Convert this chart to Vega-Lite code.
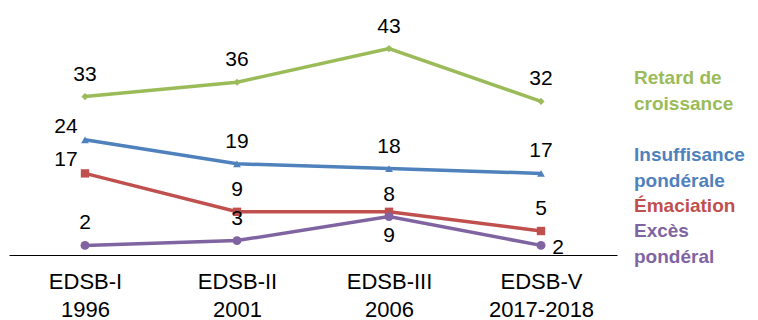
{
  "$schema": "https://vega.github.io/schema/vega-lite/v6.json",
  "width": 608,
  "height": 240,
  "autosize": {"type": "none"},
  "padding": {"left": 9, "top": 15, "right": 141, "bottom": 65},
  "background": "white",
  "config": {
    "view": {"stroke": null},
    "font": "Liberation Sans",
    "text": {"font": "Liberation Sans", "fontSize": 21, "fill": "#000000"}
  },
  "data": {
    "values": [
      {"serie": "Retard de croissance", "vague": "EDSB-I 1996", "valeur": 33},
      {"serie": "Retard de croissance", "vague": "EDSB-II 2001", "valeur": 36},
      {"serie": "Retard de croissance", "vague": "EDSB-III 2006", "valeur": 43},
      {"serie": "Retard de croissance", "vague": "EDSB-V 2017-2018", "valeur": 32},
      {"serie": "Insuffisance pondérale", "vague": "EDSB-I 1996", "valeur": 24},
      {"serie": "Insuffisance pondérale", "vague": "EDSB-II 2001", "valeur": 19},
      {"serie": "Insuffisance pondérale", "vague": "EDSB-III 2006", "valeur": 18},
      {"serie": "Insuffisance pondérale", "vague": "EDSB-V 2017-2018", "valeur": 17},
      {"serie": "Émaciation", "vague": "EDSB-I 1996", "valeur": 17},
      {"serie": "Émaciation", "vague": "EDSB-II 2001", "valeur": 9},
      {"serie": "Émaciation", "vague": "EDSB-III 2006", "valeur": 9},
      {"serie": "Émaciation", "vague": "EDSB-V 2017-2018", "valeur": 5},
      {"serie": "Excès pondéral", "vague": "EDSB-I 1996", "valeur": 2},
      {"serie": "Excès pondéral", "vague": "EDSB-II 2001", "valeur": 3},
      {"serie": "Excès pondéral", "vague": "EDSB-III 2006", "valeur": 8},
      {"serie": "Excès pondéral", "vague": "EDSB-V 2017-2018", "valeur": 2}
    ]
  },
  "encoding": {
    "x": {
      "field": "vague",
      "type": "ordinal",
      "sort": ["EDSB-I 1996", "EDSB-II 2001", "EDSB-III 2006", "EDSB-V 2017-2018"],
      "scale": {"type": "point", "padding": 0.5},
      "axis": {
        "title": null,
        "domainColor": "#000000",
        "domainWidth": 1,
        "ticks": false,
        "labelAngle": 0,
        "labelFont": "Liberation Sans",
        "labelFontSize": 22,
        "labelColor": "#000000",
        "labelPadding": 16,
        "labelBaseline": "top",
        "labelLineHeight": 28,
        "labelExpr": "split(datum.label, ' ')"
      }
    },
    "y": {
      "field": "valeur",
      "type": "quantitative",
      "scale": {"domain": [0, 50]},
      "axis": null
    }
  },
  "layer": [
    {
      "mark": {"type": "line", "strokeWidth": 3.5},
      "encoding": {
        "color": {
          "field": "serie",
          "type": "nominal",
          "scale": {
            "domain": ["Retard de croissance", "Insuffisance pondérale", "Émaciation", "Excès pondéral"],
            "range": ["#9BBB59", "#4F81BD", "#C0504D", "#8064A2"]
          },
          "legend": {
            "title": null,
            "orient": "none",
            "legendX": 606,
            "legendY": 53,
            "padding": 0,
            "symbolSize": 0,
            "symbolOpacity": 0,
            "symbolStrokeWidth": 0,
            "labelOffset": 0,
            "labelFont": "Liberation Sans",
            "labelFontSize": 19,
            "labelFontWeight": "bold",
            "labelLimit": 300,
            "rowPadding": 5,
            "labelExpr": "datum.label == 'Retard de croissance' ? ['Retard de', 'croissance', ''] : datum.label == 'Insuffisance pondérale' ? ['Insuffisance', 'pondérale'] : datum.label == 'Excès pondéral' ? ['Excès', 'pondéral'] : datum.label",
            "encode": {
              "labels": {"update": {"fill": {"scale": "color", "field": "value"}, "lineHeight": {"value": 26}}}
            }
          }
        }
      }
    },
    {
      "mark": {"type": "point", "filled": true, "opacity": 1},
      "encoding": {
        "color": {"field": "serie", "type": "nominal"},
        "shape": {
          "field": "serie",
          "type": "nominal",
          "scale": {
            "domain": ["Retard de croissance", "Insuffisance pondérale", "Émaciation", "Excès pondéral"],
            "range": ["diamond", "triangle-up", "square", "circle"]
          },
          "legend": null
        },
        "size": {
          "field": "serie",
          "type": "nominal",
          "scale": {
            "domain": ["Retard de croissance", "Insuffisance pondérale", "Émaciation", "Excès pondéral"],
            "range": [50, 80, 100, 70]
          },
          "legend": null
        }
      }
    },
    {
      "transform": [
        {"filter": "!((datum.vague == 'EDSB-I 1996' && (datum.serie == 'Insuffisance pondérale' || datum.serie == 'Émaciation')) || (datum.vague == 'EDSB-III 2006' && datum.serie == 'Émaciation') || (datum.vague == 'EDSB-V 2017-2018' && datum.serie == 'Excès pondéral'))"}
      ],
      "mark": {"type": "text", "dy": -22},
      "encoding": {"text": {"field": "valeur", "type": "quantitative"}}
    },
    {
      "transform": [
        {"filter": "datum.vague == 'EDSB-I 1996' && (datum.serie == 'Insuffisance pondérale' || datum.serie == 'Émaciation')"}
      ],
      "mark": {"type": "text", "dx": -19, "dy": -13},
      "encoding": {"text": {"field": "valeur", "type": "quantitative"}}
    },
    {
      "transform": [
        {"filter": "datum.vague == 'EDSB-III 2006' && datum.serie == 'Émaciation'"}
      ],
      "mark": {"type": "text", "dy": 24},
      "encoding": {"text": {"field": "valeur", "type": "quantitative"}}
    },
    {
      "transform": [
        {"filter": "datum.vague == 'EDSB-V 2017-2018' && datum.serie == 'Excès pondéral'"}
      ],
      "mark": {"type": "text", "dx": 17, "dy": 3},
      "encoding": {"text": {"field": "valeur", "type": "quantitative"}}
    }
  ]
}
